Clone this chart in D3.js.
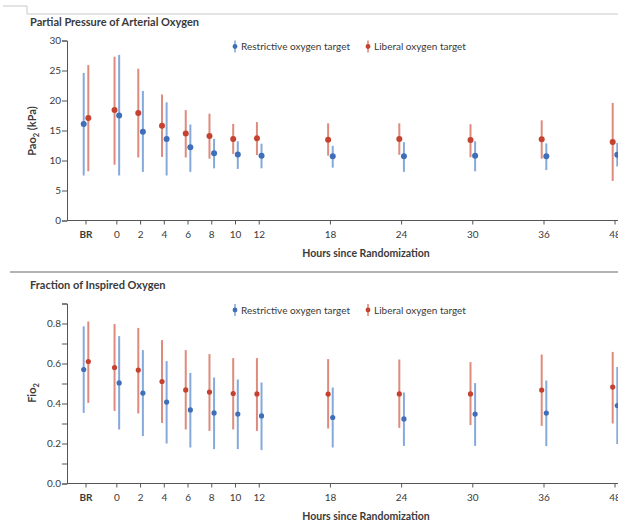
<!DOCTYPE html>
<html>
  <head>
    <style type="text/css">
        body { margin: 0; background: #fff; }
        svg text { font-family: Lato, "Open Sans", sans-serif; fill: #3a3a3a; }
    </style>
  </head>
  <body>
    <svg width="618" height="520"></svg>
    <script src="https://cdn.jsdelivr.net/npm/d3@7"></script>
    <script>

    // time points (BR = before randomization)
    var timeLabels = ["BR", "0", "2", "4", "6", "8", "10", "12", "18", "24", "30", "36", "48"];
    var timeHours  = ["BR", 0, 2, 4, 6, 8, 10, 12, 18, 24, 30, 36, 48];

    // PaO2 (kPa)
    var paoRestMean = [16.1, 17.5, 14.8, 13.6, 12.2, 11.2, 11.0, 10.8, 10.7, 10.7, 10.8, 10.7, 10.95];
    var paoRestLow  = [7.5, 7.5, 8.1, 7.5, 8.1, 8.7, 8.6, 8.7, 8.8, 8.1, 8.2, 8.4, 9.0];
    var paoRestHigh = [24.6, 27.6, 21.6, 19.7, 16.0, 13.6, 13.2, 12.8, 12.45, 13.05, 13.2, 12.85, 12.9];
    var paoLibMean  = [17.1, 18.4, 17.9, 15.8, 14.5, 14.1, 13.6, 13.7, 13.45, 13.6, 13.4, 13.55, 13.1];
    var paoLibLow   = [8.2, 9.3, 10.5, 10.6, 10.5, 10.3, 11.1, 10.9, 10.8, 10.95, 10.55, 10.3, 6.6];
    var paoLibHigh  = [25.9, 27.3, 25.3, 21.0, 18.4, 17.8, 16.1, 16.4, 16.2, 16.2, 16.05, 16.7, 19.6];

    // FiO2
    var fioRestMean = [0.57, 0.503, 0.452, 0.407, 0.368, 0.353, 0.347, 0.338, 0.33, 0.323, 0.347, 0.352, 0.39];
    var fioRestLow  = [0.353, 0.27, 0.237, 0.2, 0.18, 0.172, 0.172, 0.167, 0.18, 0.188, 0.188, 0.187, 0.197];
    var fioRestHigh = [0.786, 0.737, 0.667, 0.612, 0.553, 0.53, 0.52, 0.505, 0.48, 0.455, 0.502, 0.515, 0.582];
    var fioLibMean  = [0.61, 0.58, 0.567, 0.51, 0.468, 0.457, 0.45, 0.448, 0.447, 0.448, 0.448, 0.467, 0.482];
    var fioLibLow   = [0.403, 0.363, 0.35, 0.303, 0.27, 0.263, 0.27, 0.263, 0.275, 0.278, 0.292, 0.288, 0.3];
    var fioLibHigh  = [0.81, 0.797, 0.778, 0.717, 0.667, 0.647, 0.627, 0.627, 0.622, 0.62, 0.607, 0.645, 0.658];

    var seriesNames = ["Restrictive oxygen target", "Liberal oxygen target"];

    var blueDot = "#3f6fb8", blueBar = "#86a9dc";
    var redDot = "#c4422f", redBar = "#de8a7c";

    var svg = d3.select("svg");

    // hours -> x, BR sits a bit left of hour 0, 48 is squeezed like a 6h step
    var BR_POS = -2.6;
    var x = d3.scaleLinear()
        .domain([BR_POS, 36, 48])
        .range([86, 544, 615]);
    function xOf(h) { return x(h === "BR" ? BR_POS : h); }

    // frame lines
    svg.append("path")
        .attr("d", "M3,6H27V14H618")
        .attr("fill", "none")
        .attr("stroke", "#c8c8c8")
        .attr("stroke-width", 1);
    svg.append("line")
        .attr("x1", 10).attr("x2", 618)
        .attr("y1", 272).attr("y2", 272)
        .attr("stroke", "#9a9a9a")
        .attr("stroke-width", 1.5);

    function panel(opt) {
        var g = svg.append("g");
        var y = d3.scaleLinear().domain(opt.domain).range(opt.range);

        g.append("text")
            .attr("x", 30).attr("y", opt.titleY)
            .attr("font-size", "11px")
            .attr("font-weight", "bold")
            .text(opt.title);

        // y axis
        var yAxis = g.append("g")
            .attr("transform", "translate(67,0)")
            .call(d3.axisLeft(y)
                .tickValues(opt.ticks)
                .tickSize(5)
                .tickFormat(function(d) { return opt.labelTicks(d) ? opt.fmt(d) : ""; }));
        yAxis.select(".domain").attr("stroke", "#555");
        yAxis.selectAll(".tick line").attr("stroke", "#555");
        yAxis.selectAll(".tick text")
            .attr("font-size", "10px")
            .attr("font-family", "Lato, sans-serif")
            .attr("fill", "#555")
            .attr("x", -6);

        // x axis
        var y0 = y(0);
        g.append("line")
            .attr("x1", 67).attr("x2", 618)
            .attr("y1", y0).attr("y2", y0)
            .attr("stroke", "#555");
        var xt = g.selectAll(".xt")
            .data(timeHours)
            .enter().append("g")
            .attr("transform", function(d) { return "translate(" + xOf(d) + "," + y0 + ")"; });
        xt.append("line").attr("y2", 4).attr("stroke", "#555");
        xt.append("text")
            .attr("y", 17)
            .attr("text-anchor", "middle")
            .attr("font-size", "10px")
            .attr("font-weight", function(d, i) { return i === 0 ? "bold" : "normal"; })
            .text(function(d, i) { return timeLabels[i]; });

        g.append("text")
            .attr("x", 366).attr("y", y0 + 36)
            .attr("text-anchor", "middle")
            .attr("font-size", "10.5px")
            .attr("font-weight", "bold")
            .text("Hours since Randomization");

        // y title with subscript
        var yt = g.append("text")
            .attr("transform", "translate(36," + opt.yTitleY + ") rotate(-90)")
            .attr("text-anchor", "middle")
            .attr("font-size", "11px")
            .attr("font-weight", "bold");
        yt.append("tspan").text(opt.yPre);
        yt.append("tspan").attr("font-size", "7.5px").attr("dy", 3).text("2");
        yt.append("tspan").attr("dy", -3).text(opt.yPost);

        // error bars: liberal left of tick, restrictive right (swapped at BR)
        var series = [
            { mean: opt.restMean, lo: opt.restLow, hi: opt.restHigh, dot: blueDot, bar: blueBar, side: 1 },
            { mean: opt.libMean, lo: opt.libLow, hi: opt.libHigh, dot: redDot, bar: redBar, side: -1 }
        ];
        series.forEach(function(s) {
            var pts = timeHours.map(function(h, i) {
                var dx = 2.3 * s.side * (i === 0 ? -1 : 1);
                return { x: xOf(h) + dx, m: s.mean[i], lo: s.lo[i], hi: s.hi[i] };
            });
            g.append("g").selectAll("line")
                .data(pts)
                .enter().append("line")
                .attr("x1", function(d) { return d.x; })
                .attr("x2", function(d) { return d.x; })
                .attr("y1", function(d) { return y(d.lo); })
                .attr("y2", function(d) { return y(d.hi); })
                .attr("stroke", s.bar)
                .attr("stroke-width", 2);
            g.append("g").selectAll("circle")
                .data(pts)
                .enter().append("circle")
                .attr("cx", function(d) { return d.x; })
                .attr("cy", function(d) { return y(d.m); })
                .attr("r", opt.dotR)
                .attr("fill", s.dot);
        });

        // legend
        var leg = g.selectAll(".leg")
            .data(seriesNames)
            .enter().append("g")
            .attr("transform", function(d, i) { return "translate(" + (i === 0 ? 235 : 368) + "," + opt.legendY + ")"; });
        leg.append("line")
            .attr("y1", -6).attr("y2", 6)
            .attr("stroke", function(d, i) { return i === 0 ? blueBar : redBar; })
            .attr("stroke-width", 1.6);
        leg.append("circle")
            .attr("r", 2.4)
            .attr("fill", function(d, i) { return i === 0 ? blueDot : redDot; });
        leg.append("text")
            .attr("x", 6).attr("y", 3.5)
            .attr("font-size", "10px")
            .text(function(d) { return d; });
    }

    panel({
        title: "Partial Pressure of Arterial Oxygen",
        titleY: 26,
        domain: [0, 30], range: [220.5, 40.5],
        ticks: d3.range(0, 31, 5),
        labelTicks: function() { return true; },
        fmt: d3.format("d"),
        yPre: "Pao", yPost: " (kPa)", yTitleY: 131,
        legendY: 46.5, dotR: 3,
        restMean: paoRestMean, restLow: paoRestLow, restHigh: paoRestHigh,
        libMean: paoLibMean, libLow: paoLibLow, libHigh: paoLibHigh
    });

    panel({
        title: "Fraction of Inspired Oxygen",
        titleY: 289,
        domain: [0, 0.9], range: [483.5, 303.5],
        ticks: d3.range(0, 10).map(function(d) { return d / 10; }),
        labelTicks: function(d) { return Math.round(d * 10) % 2 === 0; },
        fmt: d3.format(".1f"),
        yPre: "Fio", yPost: "", yTitleY: 393,
        legendY: 310, dotR: 2.6,
        restMean: fioRestMean, restLow: fioRestLow, restHigh: fioRestHigh,
        libMean: fioLibMean, libLow: fioLibLow, libHigh: fioLibHigh
    });

    </script>
  </body>
</html>
